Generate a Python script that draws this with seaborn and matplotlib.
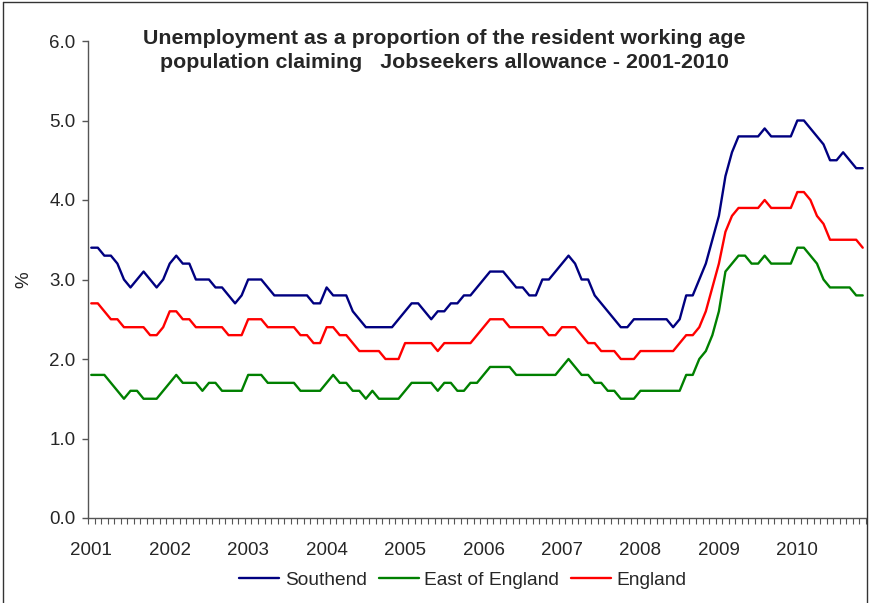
import numpy as np
import pandas as pd
import matplotlib
matplotlib.use("Agg")
import matplotlib.pyplot as plt
import seaborn as sns
from matplotlib.lines import Line2D

# ---------------- data (monthly, Jan 2001 - Nov 2010) ----------------
years = ["2001", "2002", "2003", "2004", "2005", "2006", "2007", "2008", "2009", "2010"]
series_names = ["Southend", "East of England", "England"]
series_colors = ["#000080", "#008000", "#FF0000"]

southend = [
    3.4, 3.4, 3.3, 3.3, 3.2, 3.0, 2.9, 3.0, 3.1, 3.0, 2.9, 3.0,   # 2001
    3.2, 3.3, 3.2, 3.2, 3.0, 3.0, 3.0, 2.9, 2.9, 2.8, 2.7, 2.8,   # 2002
    3.0, 3.0, 3.0, 2.9, 2.8, 2.8, 2.8, 2.8, 2.8, 2.8, 2.7, 2.7,   # 2003
    2.9, 2.8, 2.8, 2.8, 2.6, 2.5, 2.4, 2.4, 2.4, 2.4, 2.4, 2.5,   # 2004
    2.6, 2.7, 2.7, 2.6, 2.5, 2.6, 2.6, 2.7, 2.7, 2.8, 2.8, 2.9,   # 2005
    3.0, 3.1, 3.1, 3.1, 3.0, 2.9, 2.9, 2.8, 2.8, 3.0, 3.0, 3.1,   # 2006
    3.2, 3.3, 3.2, 3.0, 3.0, 2.8, 2.7, 2.6, 2.5, 2.4, 2.4, 2.5,   # 2007
    2.5, 2.5, 2.5, 2.5, 2.5, 2.4, 2.5, 2.8, 2.8, 3.0, 3.2, 3.5,   # 2008
    3.8, 4.3, 4.6, 4.8, 4.8, 4.8, 4.8, 4.9, 4.8, 4.8, 4.8, 4.8,   # 2009
    5.0, 5.0, 4.9, 4.8, 4.7, 4.5, 4.5, 4.6, 4.5, 4.4, 4.4,        # 2010
]
east = [
    1.8, 1.8, 1.8, 1.7, 1.6, 1.5, 1.6, 1.6, 1.5, 1.5, 1.5, 1.6,
    1.7, 1.8, 1.7, 1.7, 1.7, 1.6, 1.7, 1.7, 1.6, 1.6, 1.6, 1.6,
    1.8, 1.8, 1.8, 1.7, 1.7, 1.7, 1.7, 1.7, 1.6, 1.6, 1.6, 1.6,
    1.7, 1.8, 1.7, 1.7, 1.6, 1.6, 1.5, 1.6, 1.5, 1.5, 1.5, 1.5,
    1.6, 1.7, 1.7, 1.7, 1.7, 1.6, 1.7, 1.7, 1.6, 1.6, 1.7, 1.7,
    1.8, 1.9, 1.9, 1.9, 1.9, 1.8, 1.8, 1.8, 1.8, 1.8, 1.8, 1.8,
    1.9, 2.0, 1.9, 1.8, 1.8, 1.7, 1.7, 1.6, 1.6, 1.5, 1.5, 1.5,
    1.6, 1.6, 1.6, 1.6, 1.6, 1.6, 1.6, 1.8, 1.8, 2.0, 2.1, 2.3,
    2.6, 3.1, 3.2, 3.3, 3.3, 3.2, 3.2, 3.3, 3.2, 3.2, 3.2, 3.2,
    3.4, 3.4, 3.3, 3.2, 3.0, 2.9, 2.9, 2.9, 2.9, 2.8, 2.8,
]
england = [
    2.7, 2.7, 2.6, 2.5, 2.5, 2.4, 2.4, 2.4, 2.4, 2.3, 2.3, 2.4,
    2.6, 2.6, 2.5, 2.5, 2.4, 2.4, 2.4, 2.4, 2.4, 2.3, 2.3, 2.3,
    2.5, 2.5, 2.5, 2.4, 2.4, 2.4, 2.4, 2.4, 2.3, 2.3, 2.2, 2.2,
    2.4, 2.4, 2.3, 2.3, 2.2, 2.1, 2.1, 2.1, 2.1, 2.0, 2.0, 2.0,
    2.2, 2.2, 2.2, 2.2, 2.2, 2.1, 2.2, 2.2, 2.2, 2.2, 2.2, 2.3,
    2.4, 2.5, 2.5, 2.5, 2.4, 2.4, 2.4, 2.4, 2.4, 2.4, 2.3, 2.3,
    2.4, 2.4, 2.4, 2.3, 2.2, 2.2, 2.1, 2.1, 2.1, 2.0, 2.0, 2.0,
    2.1, 2.1, 2.1, 2.1, 2.1, 2.1, 2.2, 2.3, 2.3, 2.4, 2.6, 2.9,
    3.2, 3.6, 3.8, 3.9, 3.9, 3.9, 3.9, 4.0, 3.9, 3.9, 3.9, 3.9,
    4.1, 4.1, 4.0, 3.8, 3.7, 3.5, 3.5, 3.5, 3.5, 3.5, 3.4,
]
y_ticks = [0.0, 1.0, 2.0, 3.0, 4.0, 5.0, 6.0]

n = len(southend)
month = list(range(n))
df = pd.DataFrame({
    "month": month * 3,
    "value": southend + east + england,
    "series": [series_names[0]] * n + [series_names[1]] * n + [series_names[2]] * n,
})
palette = dict(zip(series_names, series_colors))

# ---------------- style ----------------
sns.set_style("white")
plt.rcParams["font.family"] = ["Liberation Sans", "DejaVu Sans"]

W, H = 869, 603
fig = plt.figure(figsize=(W / 100, H / 100), dpi=100)
fig.patch.set_facecolor("white")

ax = fig.add_axes([88 / W, (H - 518) / H, 778 / W, 477 / H])
sns.lineplot(data=df, x="month", y="value", hue="series", hue_order=series_names,
             palette=palette, linewidth=1.7, ax=ax, legend=False, sort=False)

ax.set_xlim(-0.5, n - 0.5)
ax.set_ylim(0, 6)
ax.set_xlabel("")
ax.set_ylabel("%", fontsize=13.5, labelpad=12)

for side in ["top", "right"]:
    ax.spines[side].set_visible(False)
for side in ["left", "bottom"]:
    ax.spines[side].set_color("#555555")
    ax.spines[side].set_linewidth(1.0)

ax.set_yticks(y_ticks)
ax.set_yticklabels([f"{v:.1f}" for v in y_ticks], fontsize=13.5)
ax.tick_params(axis="y", direction="out", length=4, width=1, color="#555555", pad=5, left=True)

ax.set_xticks(np.arange(0, n, 12))
ax.set_xticklabels(years, fontsize=13.5)
ax.set_xticks(np.arange(-0.5, n, 1), minor=True)
ax.tick_params(axis="x", which="major", length=0, pad=17)
ax.tick_params(axis="x", which="minor", direction="out", length=4, width=0.8,
               color="#555555", bottom=True)

# title inside the plot area
fig.text(444 / W, 1 - 38 / H, "Unemployment as a proportion of the resident working age",
         ha="center", va="center", fontsize=15.4, fontweight="bold")
fig.text(444 / W, 1 - 63 / H, "population claiming   Jobseekers allowance - 2001-2010",
         ha="center", va="center", fontsize=15.4, fontweight="bold")

# legend
handles = [Line2D([0], [0], color=c, lw=1.7) for c in series_colors]
fig.legend(handles, series_names, loc="center", bbox_to_anchor=(463 / W, 1 - 580 / H),
           ncol=3, frameon=False, fontsize=13.8, handlelength=2.1,
           handletextpad=0.3, columnspacing=0.6)

# outer chart border
fig.add_artist(Line2D([3 / W, 3 / W], [0, 1 - 2 / H], transform=fig.transFigure, color="#333333", lw=1))
fig.add_artist(Line2D([3 / W, 867 / W], [1 - 2 / H, 1 - 2 / H], transform=fig.transFigure, color="#333333", lw=1))
fig.add_artist(Line2D([867 / W, 867 / W], [0, 1 - 2 / H], transform=fig.transFigure, color="#333333", lw=1))

fig.savefig("out.png", dpi=100)
